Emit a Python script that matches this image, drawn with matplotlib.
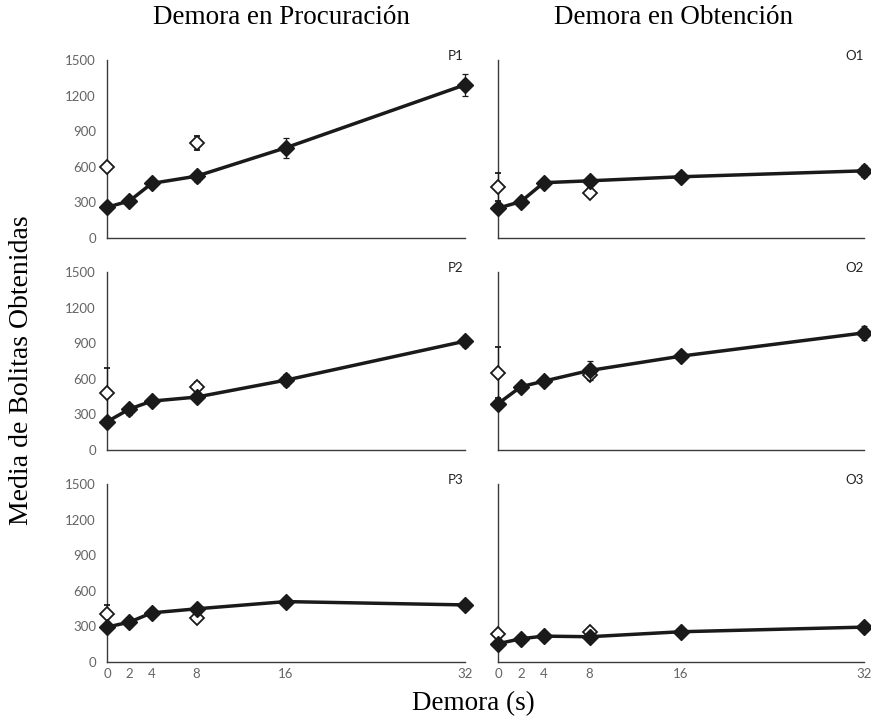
import matplotlib
matplotlib.use("Agg")
import matplotlib.pyplot as plt

# ---- data ----
delays = [0, 2, 4, 8, 16, 32]
open_delays = [0, 8]
xtick_labels = ["0", "2", "4", "8", "16", "32"]
yticks = [0, 300, 600, 900, 1200, 1500]

col_titles = ["Demora en Procuración", "Demora en Obtención"]

P1_mean = [259, 312, 460, 521, 761, 1291]
P1_err = [12, 20, 18, 46, 84, 93]
P1_open = [597, 800]
P1_open_err = [15, 58]

O1_mean = [251, 307, 466, 482, 516, 566]
O1_err = [15, 15, 15, 25, 20, 49]
O1_open = [429, 382]
O1_open_err = [120, 40]

P2_mean = [238, 345, 412, 446, 589, 917]
P2_err = [20, 46, 25, 25, 50, 45]
P2_open = [477, 530]
P2_open_err = [216, 46]

O2_mean = [390, 533, 580, 670, 791, 987]
O2_err = [20, 20, 20, 79, 25, 56]
O2_open = [650, 631]
O2_open_err = [215, 45]

P3_mean = [294, 336, 414, 448, 509, 481]
P3_err = [20, 20, 20, 15, 15, 15]
P3_open = [406, 372]
P3_open_err = [78, 20]

O3_mean = [154, 196, 218, 213, 255, 294]
O3_err = [10, 10, 10, 10, 10, 10]
O3_open = [232, 252]
O3_open_err = [15, 15]

panels = [
    ("P1", P1_mean, P1_err, P1_open, P1_open_err),
    ("O1", O1_mean, O1_err, O1_open, O1_open_err),
    ("P2", P2_mean, P2_err, P2_open, P2_open_err),
    ("O2", O2_mean, O2_err, O2_open, O2_open_err),
    ("P3", P3_mean, P3_err, P3_open, P3_open_err),
    ("O3", O3_mean, O3_err, O3_open, O3_open_err),
]

W, H = 871, 722
fig = plt.figure(figsize=(W / 100, H / 100), dpi=100)

col_x = [(107, 465), (498, 864)]
row_y = [(60, 238), (272, 450), (484, 662)]

tick_font = "Lato"
tick_color = "#646464"
spine_color = "#3a3a3a"

for i, (name, mean, err, omean, oerr) in enumerate(panels):
    r, c = divmod(i, 2)
    x0, x1 = col_x[c]
    yt, yb = row_y[r]
    ax = fig.add_axes([x0 / W, 1 - yb / H, (x1 - x0) / W, (yb - yt) / H])
    ax.set_xlim(0, 32)
    ax.set_ylim(0, 1500)
    for s in ["top", "right"]:
        ax.spines[s].set_visible(False)
    for s in ["left", "bottom"]:
        ax.spines[s].set_color(spine_color)
        ax.spines[s].set_linewidth(1.0)

    # open markers
    ax.errorbar(open_delays, omean, yerr=oerr, fmt="D", ms=7, mfc="white",
                mec="#1a1a1a", mew=1.3, ecolor="#1a1a1a", elinewidth=0.9,
                capsize=2.5, capthick=0.9, clip_on=False, zorder=3)
    # filled line
    ax.errorbar(delays, mean, yerr=err, fmt="-D", color="#1a1a1a", lw=2.5,
                ms=8, mfc="#1a1a1a", mec="#1a1a1a", ecolor="#1a1a1a",
                elinewidth=0.9, capsize=2.5, capthick=0.9, clip_on=False,
                zorder=4)

    ax.tick_params(length=0, labelsize=9.5, colors=tick_color)
    ax.tick_params(axis="y", pad=8)
    ax.tick_params(axis="x", pad=4)
    ax.set_xticks(delays)
    ax.set_yticks(yticks)
    if r == 2:
        ax.set_xticklabels(xtick_labels, fontfamily=tick_font)
    else:
        ax.set_xticklabels([])
    if c == 0:
        ax.set_yticklabels([str(v) for v in yticks], fontfamily=tick_font)
    else:
        ax.set_yticklabels([])
    ax.text(0.975, 1.02, name, transform=ax.transAxes, ha="center",
            va="center", fontsize=9.5, fontfamily=tick_font, color="#222222")

fig.text(281 / W, 1 - 18 / H, col_titles[0], ha="center", va="center",
         fontsize=19.5, fontfamily="Liberation Serif")
fig.text(673 / W, 1 - 18 / H, col_titles[1], ha="center", va="center",
         fontsize=19.5, fontfamily="Liberation Serif")
fig.text(22 / W, 1 - 370 / H, "Media de Bolitas Obtenidas", ha="center",
         va="center", rotation=90, fontsize=20, fontfamily="Liberation Serif")
fig.text(473 / W, 1 - 704 / H, "Demora (s)", ha="center", va="center",
         fontsize=19.5, fontfamily="Liberation Serif")

fig.savefig("out.png", dpi=100, facecolor="white")
